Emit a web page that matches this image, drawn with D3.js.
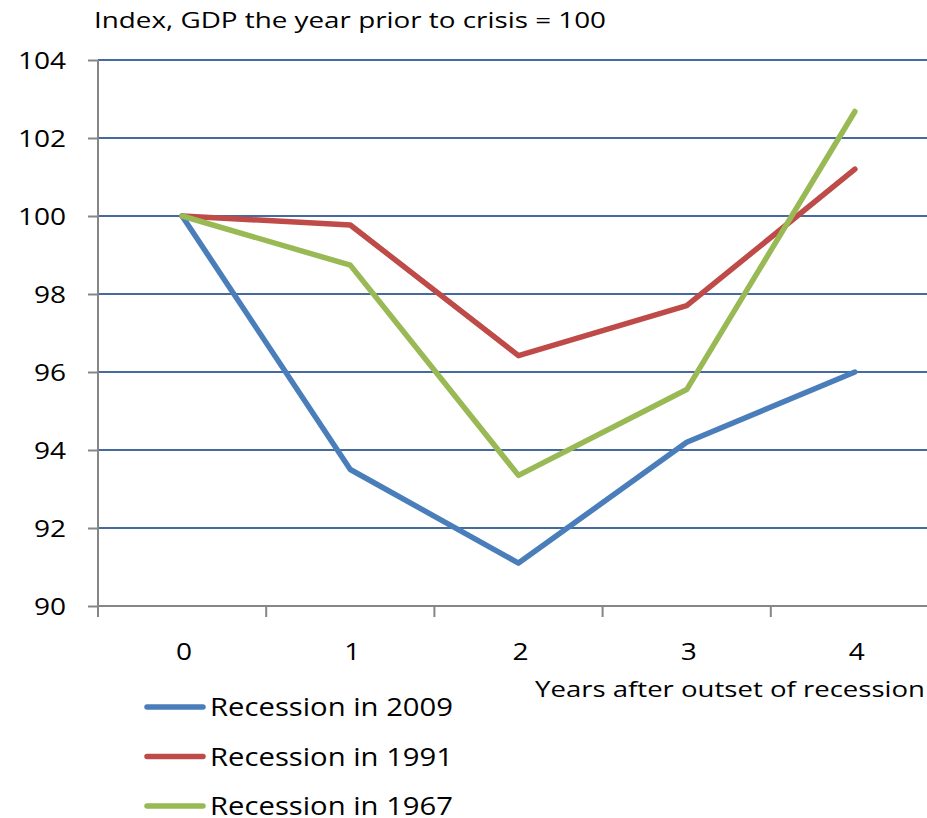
<!DOCTYPE html>
<html>
<head>
<meta charset="utf-8">
<script src="https://cdnjs.cloudflare.com/ajax/libs/d3/7.8.5/d3.min.js"></script>
<style>
  body { margin: 0; background: #fff; }
  text { font-family: "Open Sans", sans-serif; fill: #000; }
</style>
</head>
<body>
<svg id="chart"></svg>
<script>
(function () {
  'use strict';

  var years = [0, 1, 2, 3, 4]; // years after outset of recession
  var seriesNames = ["Recession in 2009", "Recession in 1991", "Recession in 1967"];
  var rec2009 = [100, 93.5, 91.1, 94.2, 96.0];
  var rec1991 = [100, 99.77, 96.42, 97.7, 101.2];
  var rec1967 = [100, 98.74, 93.35, 95.55, 102.68];
  var yTicks = [90, 92, 94, 96, 98, 100, 102, 104];
  var colors = ["#4a7ebb", "#be4b48", "#98b954"];

  var svgW = 927, svgH = 818;
  var left = 98, top = 60, bottom = 606;
  var plotRight = 939; // plot runs past the picture edge

  var svg = d3.select("#chart").attr("width", svgW).attr("height", svgH);

  var x = d3.scaleBand().domain(years).range([left, plotRight]).padding(0);
  var y = d3.scaleLinear().domain([90, 104]).range([bottom, top]);

  // stretch text horizontally, the original font is wide
  function stretch(sel, k) {
    sel.each(function () {
      var len = this.getComputedTextLength();
      d3.select(this).attr("textLength", len * k).attr("lengthAdjust", "spacingAndGlyphs");
    });
  }

  // gridlines
  svg.append("g")
    .selectAll("line")
    .data(yTicks.filter(function (d) { return d > 90; }))
    .enter().append("line")
      .attr("x1", left).attr("x2", svgW)
      .attr("y1", function (d) { return y(d); })
      .attr("y2", function (d) { return y(d); })
      .attr("stroke", "#46699f")
      .attr("stroke-width", 2);

  // y axis
  var yAxis = svg.append("g")
    .attr("transform", "translate(" + left + ",0)")
    .call(d3.axisLeft(y).tickValues(yTicks).tickSize(10).tickPadding(22));
  yAxis.select(".domain").attr("stroke", "#868686").attr("stroke-width", 2)
    .attr("d", "M0," + top + "V" + bottom);
  yAxis.selectAll(".tick line").attr("stroke", "#868686").attr("stroke-width", 2);
  yAxis.selectAll(".tick text")
    .attr("font-size", 23).attr("font-family", "Open Sans, sans-serif")
    .attr("fill", "#000").attr("dy", "0.36em")
    .call(stretch, 1.22);

  // x axis
  svg.append("line")
    .attr("x1", left).attr("x2", svgW)
    .attr("y1", bottom).attr("y2", bottom)
    .attr("stroke", "#868686").attr("stroke-width", 2);
  svg.append("g")
    .selectAll("line")
    .data(years)
    .enter().append("line")
      .attr("x1", function (d) { return x(d); })
      .attr("x2", function (d) { return x(d); })
      .attr("y1", bottom).attr("y2", bottom + 11)
      .attr("stroke", "#868686").attr("stroke-width", 2);
  svg.append("g")
    .selectAll("text")
    .data(years)
    .enter().append("text")
      .attr("x", function (d) { return x(d) + x.bandwidth() / 2 + 2; })
      .attr("y", 660)
      .attr("text-anchor", "middle")
      .attr("font-size", 23)
      .text(function (d) { return d; })
      .call(stretch, 1.22);

  // titles
  svg.append("text")
    .attr("x", 94).attr("y", 28)
    .attr("font-size", 21)
    .attr("textLength", 512).attr("lengthAdjust", "spacingAndGlyphs")
    .text("Index, GDP the year prior to crisis = 100");
  svg.append("text")
    .attr("x", 535).attr("y", 697)
    .attr("font-size", 22)
    .attr("textLength", 390).attr("lengthAdjust", "spacingAndGlyphs")
    .text("Years after outset of recession");

  // lines
  var line = d3.line()
    .x(function (d, i) { return x(years[i]) + x.bandwidth() / 2; })
    .y(function (d) { return y(d); });

  var allSeries = [rec2009, rec1991, rec1967];
  // draw 1967 below the others except where it crosses on top
  svg.append("g")
    .selectAll("path")
    .data(allSeries)
    .enter().append("path")
      .attr("d", line)
      .attr("fill", "none")
      .attr("stroke", function (d, i) { return colors[i]; })
      .attr("stroke-width", 5.5)
      .attr("stroke-linejoin", "round")
      .attr("stroke-linecap", "round");

  // legend
  var legend = svg.append("g")
    .selectAll("g")
    .data(seriesNames)
    .enter().append("g")
      .attr("transform", function (d, i) { return "translate(0," + (707 + i * 49.5) + ")"; });
  legend.append("line")
    .attr("x1", 147).attr("x2", 203)
    .attr("stroke", function (d, i) { return colors[i]; })
    .attr("stroke-width", 5.5)
    .attr("stroke-linecap", "round");
  legend.append("text")
    .attr("x", 210).attr("y", 9)
    .attr("font-size", 25)
    .attr("textLength", 243).attr("lengthAdjust", "spacingAndGlyphs")
    .text(function (d) { return d; });
}());
</script>
</body>
</html>
